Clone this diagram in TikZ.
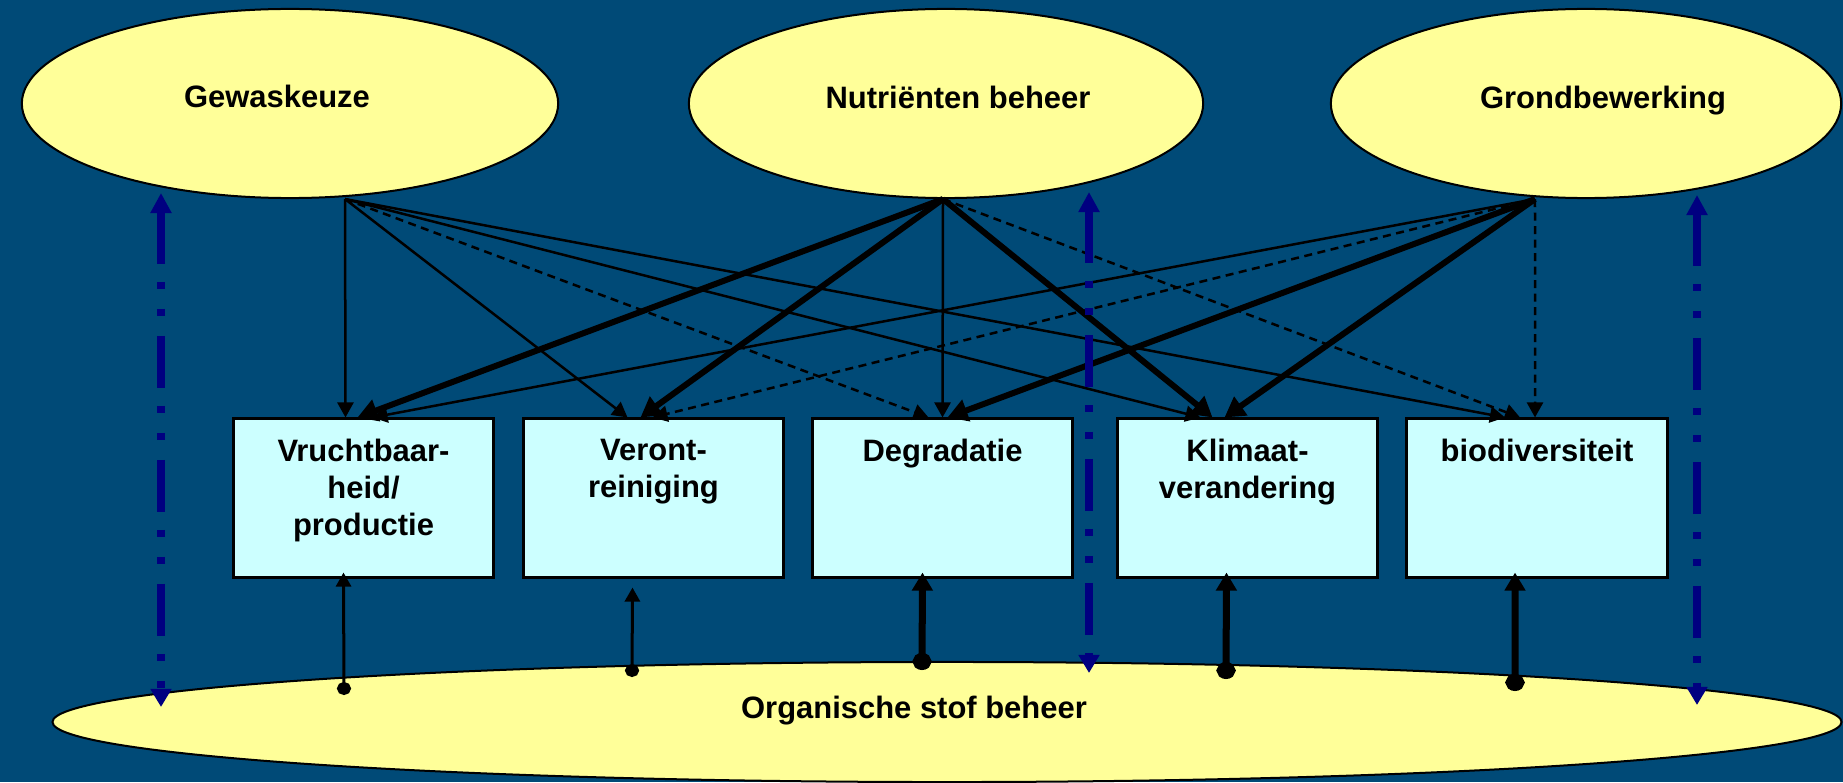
\documentclass[tikz,border=0pt]{standalone}
\usepackage{fontspec}
\setmainfont{Liberation Sans}
\usetikzlibrary{shapes.geometric,arrows.meta}
\definecolor{bgblue}{RGB}{0,74,119}
\definecolor{ovalyellow}{RGB}{255,255,153}
\definecolor{boxcyan}{RGB}{204,255,255}
\definecolor{orgnavy}{RGB}{0,0,128}
\newcommand{\boxlines}[1]{\parbox[t][1.18cm][t]{2.5cm}{\centering #1}}

\begin{document}
\begin{tikzpicture}[x=0.01cm,y=-0.01cm,
    font=\fontsize{8.8}{10.5}\selectfont\bfseries,
    oval/.style={ellipse,draw=black,line width=0.02cm,fill=ovalyellow,inner sep=0pt,minimum height=1.89cm},
    effect/.style={rectangle,draw=black,line width=0.03cm,fill=boxcyan,minimum width=2.6cm,minimum height=1.58cm,inner xsep=0pt,inner ysep=0.2cm},
    thin link/.style={line width=0.025cm,-{Triangle[width=0.16cm,length=0.15cm]}},
    thick link/.style={line width=0.06cm,-{Triangle[width=0.22cm,length=0.2cm]}},
    soft link/.style={thin link,dash pattern=on 0.08cm off 0.055cm},
    base link/.style={line width=0.03cm,{Circle[length=0.13cm,width=0.14cm]}-{Triangle[width=0.15cm,length=0.14cm]}},
    base thick/.style={line width=0.07cm,{Circle[length=0.17cm,width=0.19cm]}-{Triangle[width=0.2cm,length=0.18cm]}},
    org link/.style={draw=orgnavy,line width=0.08cm,{Triangle[width=0.2cm,length=0.2cm]}-{Triangle[width=0.2cm,length=0.18cm]},
      dash pattern=on 0.52cm off 0.18cm on 0.07cm off 0.2cm on 0.07cm off 0.2cm}]

  \useasboundingbox (0,0) rectangle (1843,782);
  \fill[bgblue] (0,0) rectangle (1843,782);

  \node[oval,minimum width=5.36cm,label={[xshift=-0.13cm,yshift=0.075cm]center:Gewaskeuze}] (gew) at (290,103.5) {};
  \node[oval,minimum width=5.14cm,label={[xshift=0.12cm,yshift=0.06cm]center:Nutriënten beheer}] (nut) at (946,103.5) {};
  \node[oval,minimum width=5.1cm,label={[xshift=0.17cm,yshift=0.03cm]center:Grondbewerking}] (grond) at (1586,103.5) {};
  \node[oval,minimum width=17.88cm,minimum height=1.2cm,label={[xshift=-0.33cm,yshift=0.11cm]center:Organische stof beheer}] (org) at (947,722) {};

  \node[effect] (vrucht) at (363.5,498) {\boxlines{Vruchtbaar-\\heid/\\productie}};
  \node[effect] (veront) at (653.5,498) {\boxlines{Veront-\\reiniging}};
  \node[effect] (degr) at (942.5,498) {\boxlines{Degradatie}};
  \node[effect] (klimaat) at (1247.5,498) {\boxlines{Klimaat-\\verandering}};
  \node[effect] (bio) at (1537,498) {\boxlines{biodiversiteit}};

  \coordinate (gew out) at ([xshift=0.55cm]gew.south);
  \coordinate (nut out) at ([xshift=-0.03cm]nut.south);
  \coordinate (grond out) at ([xshift=-0.51cm]grond.south);

  \draw[thin link] (gew out) -- ([xshift=-0.18cm]vrucht.north);
  \draw[thin link] (gew out) -- ([xshift=-0.26cm]veront.north);
  \draw[soft link] (gew out) -- ([xshift=-0.14cm]degr.north);
  \draw[thin link] (gew out) -- ([xshift=-0.47cm]klimaat.north);
  \draw[thin link] (gew out) -- ([xshift=-0.32cm]bio.north);

  \draw[thick link] (nut out) -- ([xshift=-0.06cm]vrucht.north);
  \draw[thick link] (nut out) -- ([xshift=-0.13cm]veront.north);
  \draw[thin link] (nut out) -- (degr.north);
  \draw[thick link] (nut out) -- ([xshift=-0.35cm]klimaat.north);
  \draw[soft link] (nut out) -- ([xshift=-0.17cm]bio.north);

  \draw[thin link] (grond out) -- ([xshift=0.09cm]vrucht.north);
  \draw[soft link] (grond out) -- ([xshift=-0.01cm]veront.north);
  \draw[thick link] (grond out) -- ([xshift=0.05cm]degr.north);
  \draw[thick link] (grond out) -- ([xshift=-0.23cm]klimaat.north);
  \draw[soft link] (grond out) -- ([xshift=-0.02cm]bio.north);

  \coordinate (dot vrucht) at (344,695);
  \coordinate (dot veront) at (632,677);
  \coordinate (dot degr) at (922,670);
  \coordinate (dot klimaat) at (1226,679);
  \coordinate (dot bio) at (1515,691);
  \draw[base link] (dot vrucht) -- ([xshift=-0.2cm,yshift=0.06cm]vrucht.south);
  \draw[base link] (dot veront) -- ([xshift=-0.21cm,yshift=-0.09cm]veront.south);
  \draw[base thick] (dot degr) -- ([xshift=-0.2cm,yshift=0.06cm]degr.south);
  \draw[base thick] (dot klimaat) -- ([xshift=-0.21cm,yshift=0.06cm]klimaat.south);
  \draw[base thick] (dot bio) -- ([xshift=-0.22cm,yshift=0.06cm]bio.south);

  \coordinate (org gew) at (161,193);
  \coordinate (org nut) at (1089,192);
  \coordinate (org grond) at (1697,195);
  \draw[org link] (org gew) -- (161,707);
  \draw[org link] (org nut) -- (1089,673);
  \draw[org link] (org grond) -- (1697,705);

\end{tikzpicture}
\end{document}
